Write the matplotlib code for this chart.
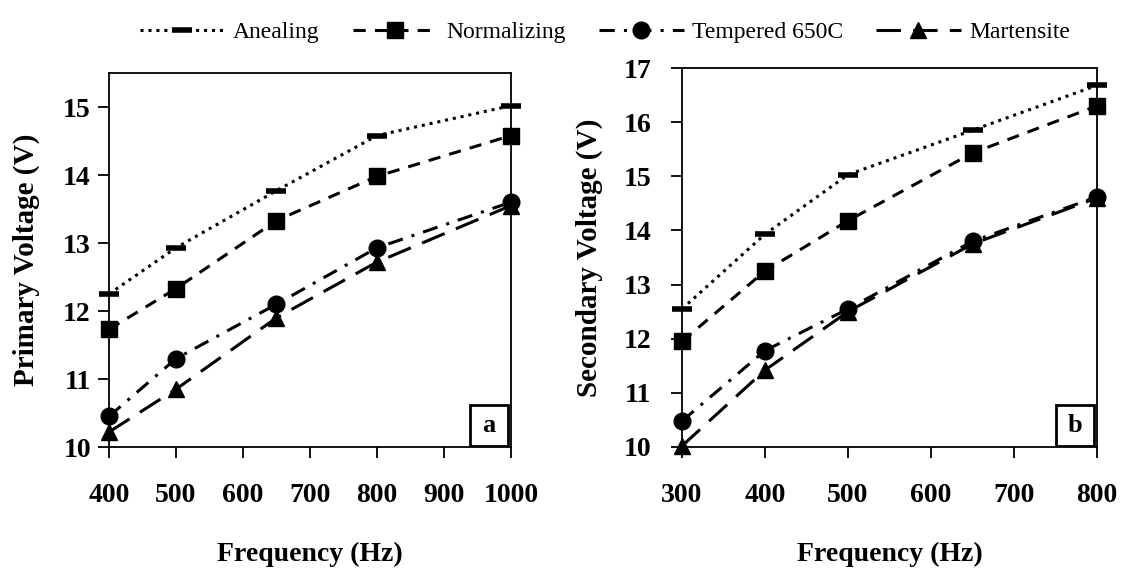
import matplotlib
matplotlib.use("Agg")
import matplotlib.pyplot as plt
from matplotlib.patches import Rectangle

# ---- data ----
freq_a = [400, 500, 650, 800, 1000]
anneal_a = [12.25, 12.93, 13.77, 14.58, 15.02]
normal_a = [11.73, 12.33, 13.33, 13.98, 14.58]
temper_a = [10.45, 11.30, 12.10, 12.93, 13.60]
marten_a = [10.22, 10.85, 11.90, 12.72, 13.55]

freq_b = [300, 400, 500, 650, 800]
anneal_b = [12.55, 13.93, 15.03, 15.85, 16.68]
normal_b = [11.95, 13.25, 14.18, 15.43, 16.30]
temper_b = [10.48, 11.78, 12.55, 13.80, 14.62]
marten_b = [10.02, 11.42, 12.50, 13.75, 14.60]

labels = ["Anealing", "Normalizing", "Tempered 650C", "Martensite"]

xticks_a = [400, 500, 600, 700, 800, 900, 1000]
yticks_a = [10, 11, 12, 13, 14, 15]
xticks_b = [300, 400, 500, 600, 700, 800]
yticks_b = [10, 11, 12, 13, 14, 15, 16, 17]

plt.rcParams['font.family'] = ['Liberation Serif', 'DejaVu Serif']

styles = [
    dict(linestyle=(0, (1, 1.6)), marker='_', markersize=15, markeredgewidth=4),
    dict(linestyle=(0, (4, 3)), marker='s', markersize=11),
    dict(linestyle=(0, (5, 3, 1, 3)), marker='o', markersize=12),
    dict(linestyle=(0, (8, 4)), marker='^', markersize=12),
]

fig = plt.figure(figsize=(11.35, 5.69), dpi=100)
W, H = 1135, 569

def make_ax(x0, x1, y0, y1):
    return fig.add_axes([x0 / W, 1 - y1 / H, (x1 - x0) / W, (y1 - y0) / H])

ax_a = make_ax(109, 511, 73, 447)
ax_b = make_ax(682, 1097, 68, 447)

def draw(ax, x, series, xlim, ylim, xt, yt, ylabel, letter, ypad, ylabpad):
    handles = []
    for ys, st in zip(series, styles):
        h, = ax.plot(x, ys, color='black', linewidth=2.2, clip_on=False,
                     markerfacecolor='black', markeredgecolor='black', **st)
        handles.append(h)
    ax.set_xlim(*xlim)
    ax.set_ylim(*ylim)
    ax.set_xticks(xt)
    ax.set_yticks(yt)
    for s in ax.spines.values():
        s.set_linewidth(1.3)
    ax.tick_params(direction='out', length=8, width=1.3, labelsize=20)
    ax.tick_params(axis='x', pad=18)
    ax.tick_params(axis='y', pad=ypad)
    for lab in ax.get_xticklabels() + ax.get_yticklabels():
        lab.set_fontweight('bold')
    ax.set_xlabel("Frequency (Hz)", fontsize=20, fontweight='bold', labelpad=24)
    ax.set_ylabel(ylabel, fontsize=21, fontweight='bold', labelpad=ylabpad)
    # letter box in the lower right corner
    bbox = ax.get_position()
    bw = 38 / (bbox.width * W)
    bh = 41 / (bbox.height * H)
    x0 = 1 - bw - 3 / (bbox.width * W)
    y0 = 1.5 / (bbox.height * H)
    ax.add_patch(Rectangle((x0, y0), bw, bh, transform=ax.transAxes,
                           facecolor='white', edgecolor='black', linewidth=2.0,
                           zorder=5))
    ax.text(x0 + bw / 2, y0 + bh / 2, letter, transform=ax.transAxes,
            ha='center', va='center', fontsize=19, fontweight='bold', zorder=6)
    return handles

handles = draw(ax_a, freq_a, [anneal_a, normal_a, temper_a, marten_a],
               (400, 1000), (10, 15.5), xticks_a, yticks_a,
               "Primary Voltage (V)", "a", 5, 17)
draw(ax_b, freq_b, [anneal_b, normal_b, temper_b, marten_b],
     (300, 800), (10, 17), xticks_b, yticks_b,
     "Secondary Voltage (V)", "b", 14, 15)

fig.legend(handles, labels, loc='upper center', bbox_to_anchor=(0.533, 1.0),
           ncol=4, frameon=False, handlelength=3.6,
           columnspacing=1.4, handletextpad=0.35,
           prop=dict(family=['Liberation Serif'], size=17))

fig.savefig("out.png", dpi=100)
